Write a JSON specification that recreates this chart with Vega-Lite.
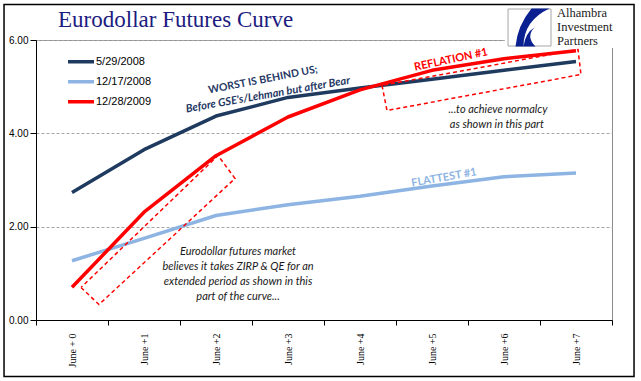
{
  "$schema": "https://vega.github.io/schema/vega-lite/v6.json",
  "width": 576,
  "height": 280,
  "autosize": {"type": "none"},
  "padding": {"left": 36, "top": 40, "right": 29, "bottom": 61},
  "background": "white",
  "config": {
    "view": {"stroke": "#8C8C8C", "strokeWidth": 1},
    "axis": {"domainColor": "black", "tickColor": "black", "labelColor": "black", "domainWidth": 1, "tickWidth": 1}
  },
  "datasets": {
    "curves": [
      {"series": "5/29/2008", "term": "June + 0", "x": 0.5, "y": 2.73},
      {"series": "5/29/2008", "term": "June +1", "x": 1.5, "y": 3.65},
      {"series": "5/29/2008", "term": "June +2", "x": 2.5, "y": 4.37},
      {"series": "5/29/2008", "term": "June +3", "x": 3.5, "y": 4.77},
      {"series": "5/29/2008", "term": "June +4", "x": 4.5, "y": 4.97},
      {"series": "5/29/2008", "term": "June +5", "x": 5.5, "y": 5.16},
      {"series": "5/29/2008", "term": "June +6", "x": 6.5, "y": 5.35},
      {"series": "5/29/2008", "term": "June +7", "x": 7.5, "y": 5.54},
      {"series": "12/17/2008", "term": "June + 0", "x": 0.5, "y": 1.27},
      {"series": "12/17/2008", "term": "June +1", "x": 1.5, "y": 1.75},
      {"series": "12/17/2008", "term": "June +2", "x": 2.5, "y": 2.24},
      {"series": "12/17/2008", "term": "June +3", "x": 3.5, "y": 2.47},
      {"series": "12/17/2008", "term": "June +4", "x": 4.5, "y": 2.65},
      {"series": "12/17/2008", "term": "June +5", "x": 5.5, "y": 2.87},
      {"series": "12/17/2008", "term": "June +6", "x": 6.5, "y": 3.07},
      {"series": "12/17/2008", "term": "June +7", "x": 7.5, "y": 3.15},
      {"series": "12/28/2009", "term": "June + 0", "x": 0.5, "y": 0.70},
      {"series": "12/28/2009", "term": "June +1", "x": 1.5, "y": 2.31},
      {"series": "12/28/2009", "term": "June +2", "x": 2.5, "y": 3.52},
      {"series": "12/28/2009", "term": "June +3", "x": 3.5, "y": 4.35},
      {"series": "12/28/2009", "term": "June +4", "x": 4.5, "y": 4.93},
      {"series": "12/28/2009", "term": "June +5", "x": 5.5, "y": 5.35},
      {"series": "12/28/2009", "term": "June +6", "x": 6.5, "y": 5.60},
      {"series": "12/28/2009", "term": "June +7", "x": 7.5, "y": 5.77}
    ],
    "boxes": [
      {"box": "a", "k": 0, "x": 0.625, "y": 0.696},
      {"box": "a", "k": 1, "x": 0.875, "y": 0.332},
      {"box": "a", "k": 2, "x": 2.764, "y": 3.032},
      {"box": "a", "k": 3, "x": 2.528, "y": 3.525},
      {"box": "a", "k": 4, "x": 0.625, "y": 0.696},
      {"box": "b", "k": 0, "x": 4.806, "y": 5.025},
      {"box": "b", "k": 1, "x": 4.875, "y": 4.489},
      {"box": "b", "k": 2, "x": 7.569, "y": 5.261},
      {"box": "b", "k": 3, "x": 7.528, "y": 5.796},
      {"box": "b", "k": 4, "x": 4.806, "y": 5.025}
    ],
    "notes": [
      {"text": "...to achieve normalcy", "x": 6.417, "y": 4.50},
      {"text": "as shown in this part", "x": 6.40, "y": 4.178},
      {"text": "Eurodollar futures market", "x": 2.806, "y": 1.457},
      {"text": "believes it takes ZIRP & QE for an", "x": 2.806, "y": 1.136},
      {"text": "extended period as shown in this", "x": 2.806, "y": 0.814},
      {"text": "part of the curve...", "x": 2.806, "y": 0.493}
    ],
    "worst": [{"text": "WORST IS BEHIND US;", "x": 3.153, "y": 5.143}],
    "before": [{"text": "Before GSE's/Lehman but after Bear", "x": 3.222, "y": 4.821}],
    "reflation": [{"text": "REFLATION #1", "x": 5.764, "y": 5.571}],
    "flattest": [{"text": "FLATTEST #1", "x": 5.667, "y": 3.043}],
    "cover": [{"x": 6.51, "x2": 8.29, "y": 6.75, "y2": 5.83}],
    "logobox": [{"x": 6.556, "x2": 7.153, "y": 6.664, "y2": 5.871}],
    "logomark": [{"x": 6.854, "y": 6.268}],
    "logotext": [
      {"text": "Alhambra", "x": 7.236, "y": 6.492},
      {"text": "Investment", "x": 7.236, "y": 6.193},
      {"text": "Partners", "x": 7.236, "y": 5.893}
    ],
    "title": [{"text": "Eurodollar Futures Curve", "x": 0.306, "y": 6.278}],
    "frame": [{"x": -0.444, "x2": 8.306, "y": 6.76, "y2": -1.211}]
  },
  "encoding": {
    "x": {
      "field": "x", "type": "quantitative",
      "scale": {"domain": [0, 8], "nice": false, "zero": false},
      "axis": {
        "title": null, "values": [0, 1, 2, 3, 4, 5, 6, 7, 8],
        "labelExpr": "datum.value == 0 ? 'June + 0' : (datum.value < 8 ? 'June +' + datum.value : '')",
        "labelAngle": -90, "labelOffset": 36, "labelFlush": false, "labelOverlap": false,
        "labelFont": "Liberation Serif", "labelFontSize": 10, "tickSize": 5, "labelPadding": 8,
        "grid": false
      }
    },
    "y": {
      "field": "y", "type": "quantitative",
      "scale": {"domain": [0, 6], "nice": false, "zero": false},
      "axis": {
        "title": null, "values": [0, 2, 4, 6], "format": ".2f",
        "labelFont": "Liberation Sans", "labelFontSize": 10, "tickSize": 6, "labelPadding": 2,
        "grid": true, "gridDash": [3, 2], "gridColor": "#A6A6A6", "gridWidth": 1
      }
    }
  },
  "layer": [
    {
      "data": {"name": "curves"},
      "mark": {"type": "line", "strokeWidth": 3.5, "strokeJoin": "round", "strokeCap": "butt"},
      "encoding": {
        "color": {
          "field": "series", "type": "nominal",
          "scale": {"domain": ["5/29/2008", "12/17/2008", "12/28/2009"], "range": ["#1F3A5F", "#8DB4E2", "#FF0000"]},
          "legend": {
            "title": null, "orient": "none", "legendX": 30, "legendY": 12, "padding": 0,
            "symbolType": "stroke", "symbolSize": 676, "symbolStrokeWidth": 3.5,
            "labelFont": "Liberation Sans", "labelFontSize": 11, "labelColor": "black",
            "labelOffset": 0, "rowPadding": 0, "clipHeight": 19.5
          }
        }
      }
    },
    {
      "data": {"name": "boxes"},
      "mark": {"type": "line", "color": "#FF0000", "strokeWidth": 1.5, "strokeDash": [4, 3]},
      "encoding": {"detail": {"field": "box"}, "order": {"field": "k", "type": "quantitative"}}
    },
    {
      "data": {"name": "notes"},
      "mark": {"type": "text", "font": "Lato", "fontStyle": "italic", "fontSize": 11, "color": "#1A1A1A", "align": "center", "baseline": "middle"},
      "encoding": {"text": {"field": "text"}}
    },
    {
      "data": {"name": "worst"},
      "mark": {"type": "text", "font": "Lato", "fontWeight": "bold", "fontSize": 10.5, "color": "#1F3864", "angle": -11, "align": "center", "baseline": "middle"},
      "encoding": {"text": {"field": "text"}}
    },
    {
      "data": {"name": "before"},
      "mark": {"type": "text", "font": "Lato", "fontWeight": "bold", "fontStyle": "italic", "fontSize": 11, "color": "#1F3864", "angle": -10, "align": "center", "baseline": "middle"},
      "encoding": {"text": {"field": "text"}}
    },
    {
      "data": {"name": "reflation"},
      "mark": {"type": "text", "font": "Lato", "fontWeight": "bold", "fontSize": 11, "color": "#FF0000", "angle": -12, "align": "center", "baseline": "middle"},
      "encoding": {"text": {"field": "text"}}
    },
    {
      "data": {"name": "flattest"},
      "mark": {"type": "text", "font": "Lato", "fontWeight": "bold", "fontSize": 11, "color": "#8DB4E2", "angle": -10, "align": "center", "baseline": "middle"},
      "encoding": {"text": {"field": "text"}}
    },
    {
      "data": {"name": "cover"},
      "mark": {"type": "rect", "fill": "white", "strokeWidth": 0},
      "encoding": {"x2": {"field": "x2"}, "y2": {"field": "y2"}}
    },
    {
      "data": {"name": "logobox"},
      "mark": {"type": "rect", "fill": "white", "stroke": "#A6A6A6", "strokeWidth": 1},
      "encoding": {"x2": {"field": "x2"}, "y2": {"field": "y2"}}
    },
    {
      "data": {"name": "logomark"},
      "mark": {
        "type": "point", "filled": true, "fill": "#0B2090", "opacity": 1, "strokeWidth": 0, "size": 1600,
        "shape": "M0.1,-0.95 L1,-0.95 Q-0.3,-0.35 -0.3,0.95 L-0.7,0.95 Q-0.6,-0.1 0.1,-0.95 Z M-0.3,0.95 L0.3,0.95 Q-0.2,0.45 0.25,0.0 Q-0.2,0.25 -0.3,0.95 Z"
      }
    },
    {
      "data": {"name": "logotext"},
      "mark": {"type": "text", "font": "Liberation Serif", "fontSize": 12.5, "color": "#1A1A1A", "align": "left", "baseline": "alphabetic"},
      "encoding": {"text": {"field": "text"}}
    },
    {
      "data": {"name": "title"},
      "mark": {"type": "text", "font": "Liberation Serif", "fontSize": 23, "color": "#1C1C80", "align": "left", "baseline": "alphabetic"},
      "encoding": {"text": {"field": "text"}}
    },
    {
      "data": {"name": "frame"},
      "mark": {"type": "rect", "filled": false, "fill": null, "stroke": "black", "strokeWidth": 1.5},
      "encoding": {"x2": {"field": "x2"}, "y2": {"field": "y2"}}
    }
  ]
}
